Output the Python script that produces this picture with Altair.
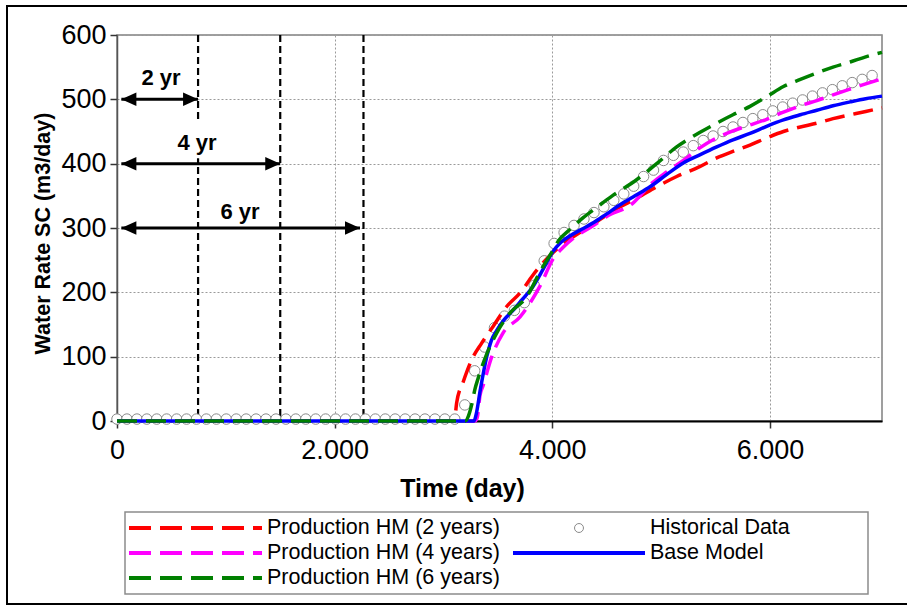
import altair as alt
import pandas as pd

FONT = "Liberation Sans"

# ---------------- data ----------------
hist_day = [0, 91, 183, 274, 365, 456, 548, 639, 730, 821, 913, 1004, 1096, 1187, 1278,
            1369, 1461, 1552, 1643, 1735, 1826, 1917, 2009, 2100, 2191, 2282, 2374, 2465,
            2556, 2648, 2739, 2830, 2922, 3013, 3104, 3196, 3287, 3378, 3469, 3561, 3652,
            3743, 3834, 3926, 4017, 4109, 4200, 4291, 4383, 4474, 4565, 4657, 4748, 4839,
            4930, 5022, 5113, 5204, 5296, 5387, 5478, 5569, 5661, 5752, 5843, 5935, 6026,
            6117, 6209, 6300, 6391, 6483, 6574, 6665, 6756, 6848, 6939]
hist_rate = [3, 3, 3, 3, 3, 3, 3, 3, 3, 3, 3, 3, 3, 3, 3,
             3, 3, 3, 3, 3, 3, 3, 3, 3, 3, 3, 3, 3,
             3, 3, 3, 3, 3, 3, 3, 25, 78, 115, 145, 163, 172,
             184, 211, 249, 276, 293, 304, 314, 324, 333, 343, 353, 365, 380,
             390, 405, 413, 418, 428, 436, 443, 450, 457, 464, 470, 476, 482,
             488, 494, 499, 505, 510, 515, 521, 526, 531, 537]

hm2_day = [0, 3100, 3121, 3182, 3259, 3351, 3456, 3581, 3704, 3823, 3916, 4008, 4164, 4376,
           4591, 4775, 4959, 5143, 5350, 5511, 5660, 5817, 5970, 6124, 6280, 6431, 6580,
           6737, 6880, 7030]
hm2_rate = [0, 0, 28, 61, 95, 121, 147, 178, 199, 227, 246, 262, 283, 306,
            330, 346, 364, 380, 395, 409, 419, 429, 440, 450, 457, 463, 470,
            476, 481, 487]

hm4_day = [0, 3290, 3310, 3336, 3364, 3444, 3548, 3704, 3888, 4008, 4100, 4225, 4370, 4500,
           4744, 4898, 5050, 5204, 5360, 5511, 5660, 5817, 5970, 6124, 6280, 6431, 6580,
           6737, 6880, 7030]
hm4_rate = [0, 0, 5, 40, 55, 100, 137, 162, 210, 252, 270, 288, 303, 318,
            339, 367, 387, 405, 425, 440, 451, 460, 469, 480, 490, 498, 507,
            516, 524, 532]

hm6_day = [0, 3200, 3230, 3259, 3290, 3318, 3400, 3490, 3612, 3765, 3888, 4008, 4056, 4164,
           4284, 4408, 4560, 4775, 4959, 5143, 5350, 5511, 5660, 5817, 5970, 6124, 6280,
           6431, 6580, 6737, 6880, 7030]
hm6_rate = [0, 0, 8, 25, 50, 66, 105, 137, 168, 193, 232, 266, 280, 298,
            316, 332, 351, 375, 400, 426, 448, 463, 476, 489, 504, 520, 531,
            541, 550, 558, 566, 573]

base_day = [0, 3280, 3300, 3340, 3398, 3440, 3490, 3560, 3640, 3730, 3823, 3870, 3916, 4008,
            4080, 4164, 4270, 4376, 4500, 4623, 4760, 4898, 5050, 5204, 5360, 5511, 5660,
            5817, 5970, 6124, 6280, 6431, 6580, 6737, 6880, 7030]
base_rate = [0, 0, 10, 50, 100, 125, 141, 158, 172, 190, 209, 222, 236, 264,
             278, 288, 298, 308, 322, 336, 350, 364, 383, 401, 414, 426, 437,
             447, 458, 468, 476, 483, 490, 496, 501, 505]

series_names = ["Production HM (2 years)", "Production HM (4 years)",
                "Production HM (6 years)", "Historical Data", "Base Model"]

period_day = [745, 1500, 2265]
period_label = ["2 yr", "4 yr", "6 yr"]
arrow_start = [40, 40, 40]
arrow_end = [745, 1500, 2233]
arrow_rate = [500, 400, 300]
label_day = [404, 735, 1130]
label_rate = [522, 421, 314]

x_ticks = [0, 2000, 4000, 6000]
y_ticks = [0, 100, 200, 300, 400, 500, 600]

# ---------------- styling ----------------
W, H = 765, 386
x_scale = alt.Scale(domain=[0, 7030], nice=False, zero=False)
y_scale = alt.Scale(domain=[0, 600], nice=False)

x_axis = alt.Axis(values=x_ticks,
                  labelExpr="datum.value == 0 ? '0' : format(datum.value / 1000, 'd') + '.000'",
                  title="Time (day)", titleFontSize=25, titleFontWeight="bold",
                  titleColor="black", titleX=345, titleY=67, titleBaseline="middle",
                  titleAlign="center", titleFont=FONT,
                  labelFont=FONT, labelFontSize=27, labelColor="black", labelPadding=9,
                  labelFlush=False, labelOverlap=False,
                  tickSize=7, tickColor="#333333", tickWidth=1.5,
                  domainColor="black", domainWidth=2, grid=True)
y_axis = alt.Axis(values=y_ticks, title="Water Rate SC (m3/day)", titleFontSize=21.5,
                  titleFontWeight="bold", titleColor="black", titleX=-74, titleY=198,
                  titleAngle=270, titleAlign="center", titleBaseline="middle", titleFont=FONT,
                  labelFont=FONT, labelFontSize=27, labelColor="black", labelPadding=4,
                  labelFlush=False, labelOverlap=False,
                  tickSize=7, tickColor="#333333", tickWidth=1.5,
                  domainColor="#555555", domainWidth=1.5, grid=True)


def X(field="day"):
    return alt.X(f"{field}:Q", scale=x_scale, axis=x_axis)


def Y(field="rate"):
    return alt.Y(f"{field}:Q", scale=y_scale, axis=y_axis)


layers = []

# outer frame of figure
frame = alt.Chart(pd.DataFrame({"a": [0]})).mark_rect(
    fillOpacity=0, stroke="black", strokeWidth=2
).encode(x=alt.value(-110), x2=alt.value(800), y=alt.value(-29), y2=alt.value(569))
layers.append(frame)

# vertical dashed period lines
vlines = alt.Chart(pd.DataFrame({"day": period_day})).mark_rule(
    color="black", strokeDash=[7, 4], strokeWidth=2.2
).encode(x=X())
layers.append(vlines)

ann = pd.DataFrame({"label": period_label, "day": label_day, "rate": label_rate,
                    "a0": arrow_start, "a1": arrow_end, "ay": arrow_rate})

# white box behind labels
boxes = alt.Chart(ann).mark_point(shape="square", filled=True, color="white", opacity=1,
                                  size=38 * 38, yOffset=-11).encode(x=X(), y=Y())
layers.append(boxes)

labels = alt.Chart(ann).mark_text(font=FONT, fontSize=22, fontWeight="bold", color="black",
                                  baseline="alphabetic", align="center").encode(
    x=X(), y=Y(), text="label:N")
layers.append(labels)

arrows = alt.Chart(ann).mark_rule(color="black", strokeWidth=3).encode(
    x=X("a0"), x2="a1:Q", y=Y("ay"))
layers.append(arrows)
head_l = alt.Chart(ann).mark_point(shape="M0,0L2,-0.9L2,0.9Z", filled=True, color="black",
                                   opacity=1, size=225).encode(x=X("a0"), y=Y("ay"))
head_r = alt.Chart(ann).mark_point(shape="M0,0L-2,-0.9L-2,0.9Z", filled=True, color="black",
                                   opacity=1, size=225).encode(x=X("a1"), y=Y("ay"))
layers += [head_l, head_r]

# historical data
hist = alt.Chart(pd.DataFrame({"day": hist_day, "rate": hist_rate})).mark_point(
    shape="circle", filled=True, fill="white", stroke="#8a8a8a", strokeWidth=1,
    size=110, opacity=1
).encode(x=X(), y=Y())
layers.append(hist)

model_series = [
    (hm2_day, hm2_rate, "#FF0000", [20, 9]),
    (hm4_day, hm4_rate, "#FF00FF", [20, 9]),
    (base_day, base_rate, "#0000FF", None),
    (hm6_day, hm6_rate, "#008000", [20, 9]),
]
for d, r, c, dash in model_series:
    kw = dict(color=c, strokeWidth=3.5, interpolate="monotone")
    if dash:
        kw["strokeDash"] = dash
    layers.append(alt.Chart(pd.DataFrame({"day": d, "rate": r})).mark_line(**kw)
                  .encode(x=X(), y=Y()))

# ---------------- legend (drawn below plot) ----------------
one = pd.DataFrame({"a": [0]})
layers.append(alt.Chart(one).mark_rect(fillOpacity=0, stroke="#8c8c8c", strokeWidth=1.5)
              .encode(x=alt.value(8), x2=alt.value(751), y=alt.value(477), y2=alt.value(559)))

rows_y = [493, 518, 543]
leg_items = [
    (series_names[0], "#FF0000", "dash", 0, 0),
    (series_names[1], "#FF00FF", "dash", 0, 1),
    (series_names[2], "#008000", "dash", 0, 2),
    (series_names[3], None, "circle", 1, 0),
    (series_names[4], "#0000FF", "solid", 1, 1),
]
col_sym = [(12, 145, 150), (396, 528, 533)]
for name, color, kind, col, row in leg_items:
    x0, x1, xt = col_sym[col]
    yy = rows_y[row]
    if kind == "circle":
        layers.append(alt.Chart(one).mark_point(shape="circle", filled=True, fill="white",
                                                stroke="#8a8a8a", strokeWidth=1, size=80,
                                                opacity=1)
                      .encode(x=alt.value((x0 + x1) / 2), y=alt.value(yy)))
    else:
        kw = dict(color=color, strokeWidth=4)
        if kind == "dash":
            kw["strokeDash"] = [22, 9]
        layers.append(alt.Chart(one).mark_rule(**kw)
                      .encode(x=alt.value(x0), x2=alt.value(x1), y=alt.value(yy)))
    layers.append(alt.Chart(pd.DataFrame({"label": [name]})).mark_text(
        font=FONT, fontSize=21.5, color="black", align="left", baseline="middle")
        .encode(x=alt.value(xt), y=alt.value(yy), text="label:N"))

chart = alt.layer(*layers).properties(
    width=W, height=H,
    autosize=alt.AutoSizeParams(type="none"),
    padding={"left": 117, "top": 35, "right": 25, "bottom": 185},
    background="white",
).configure_view(
    stroke="#808080", strokeWidth=1.5
).configure_axis(
    gridDash=[2, 2], gridColor="#9a9a9a", gridWidth=1
)

chart.save("out.html", embed_options={"renderer": "svg", "actions": False})
